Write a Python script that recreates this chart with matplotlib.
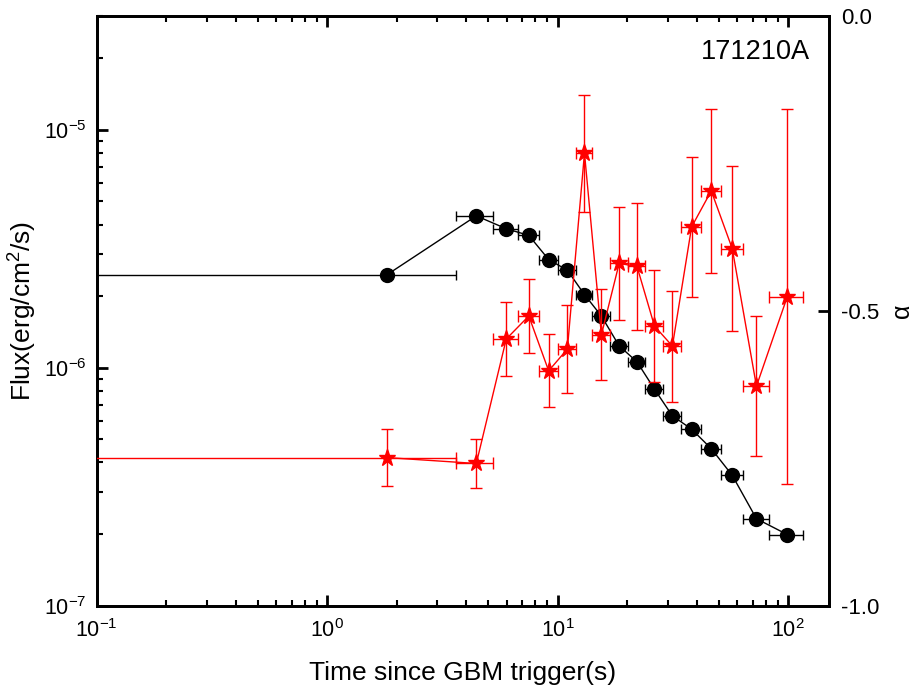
import matplotlib
matplotlib.use("Agg")
import matplotlib.pyplot as plt
import numpy as np
from matplotlib.ticker import LogLocator, FixedLocator, FixedFormatter, NullLocator, LogFormatterSciNotation

plt.rcParams['font.family'] = ['Liberation Sans', 'DejaVu Sans']
plt.rcParams['mathtext.fontset'] = 'custom'
plt.rcParams['mathtext.rm'] = 'Liberation Sans'
plt.rcParams['mathtext.it'] = 'Liberation Sans:italic'
plt.rcParams['axes.unicode_minus'] = False

# ---- data ----
t_lo = [0, 3.63, 5.23, 6.72, 8.25, 10.0, 12.0, 14.1, 16.8, 20.1, 24.0, 28.5, 34.3, 41.8, 50.8, 63.4, 82.0]
t_hi = [3.63, 5.23, 6.72, 8.25, 10.0, 12.0, 14.1, 16.8, 20.1, 24.0, 28.5, 34.3, 41.8, 50.8, 63.4, 82.0, 116.0]
flux = [2.46e-6, 4.35e-6, 3.84e-6, 3.60e-6, 2.85e-6, 2.57e-6, 2.03e-6, 1.65e-6, 1.236e-6,
        1.059e-6, 8.13e-7, 6.28e-7, 5.52e-7, 4.57e-7, 3.53e-7, 2.32e-7, 1.99e-7]
alpha = [-0.749, -0.759, -0.548, -0.509, -0.602, -0.565, -0.233, -0.541, -0.420,
         -0.425, -0.526, -0.560, -0.358, -0.297, -0.395, -0.628, -0.476]
alpha_err = [0.048, 0.041, 0.062, 0.062, 0.062, 0.075, 0.099, 0.077, 0.096,
             0.108, 0.095, 0.094, 0.118, 0.139, 0.140, 0.119, 0.318]
grb_name = "171210A"
alpha_ticks = [-1.0, -0.5, 0.0]
alpha_ticklabels = ["-1.0", "-0.5", "0.0"]

t_lo = np.array(t_lo); t_hi = np.array(t_hi)
t_mid = (t_lo + t_hi) / 2
xerr = [t_mid - t_lo, t_hi - t_mid]

fig = plt.figure(figsize=(9.17, 6.95), dpi=100)
ax = fig.add_axes([0.1055, 0.1285, 0.7985, 0.849])
ax.set_xscale('log')
ax.set_yscale('log')

ax.errorbar(t_mid, flux, xerr=xerr, fmt='o-', color='black', ms=10, lw=1,
            elinewidth=1, capsize=3.8, capthick=1, zorder=3)
ax.set_xlim(0.1, 150)
ax.set_ylim(1e-7, 3.02e-5)

ax2 = ax.twinx()
ax2.errorbar(t_mid, alpha, xerr=xerr, yerr=alpha_err, fmt='*-', color='red', ms=12.5,
             lw=1, elinewidth=1, capsize=4.5, capthick=1, zorder=3)
ax2.set_ylim(-1.0, 0.0)
ax2.yaxis.set_major_locator(FixedLocator(alpha_ticks))
ax2.yaxis.set_major_formatter(FixedFormatter(alpha_ticklabels))
ax2.yaxis.set_minor_locator(NullLocator())

for a in (ax, ax2):
    for s in a.spines.values():
        s.set_linewidth(2)

ax.xaxis.set_major_locator(LogLocator(base=10, numticks=10))
ax.xaxis.set_minor_locator(LogLocator(base=10, subs=np.arange(2, 10), numticks=10))
ax.yaxis.set_major_locator(LogLocator(base=10, numticks=10))
ax.yaxis.set_minor_locator(LogLocator(base=10, subs=np.arange(2, 10), numticks=10))
ax.xaxis.set_major_formatter(LogFormatterSciNotation())
ax.yaxis.set_major_formatter(LogFormatterSciNotation())

ax.tick_params(axis='x', which='both', direction='in', top=True, bottom=True)
ax.tick_params(axis='y', which='both', direction='in', left=True, right=False)
ax.tick_params(which='major', length=8, width=2, labelsize=15.5)
ax.tick_params(which='minor', length=4.5, width=1.5)
ax.tick_params(axis='x', which='major', pad=10)
ax.tick_params(axis='y', which='major', pad=7)
ax2.tick_params(axis='y', which='major', direction='in', length=8, width=2, labelsize=16, pad=9)

ax.set_xlabel("Time since GBM trigger(s)", fontsize=19, labelpad=13)
ax.set_ylabel(r"Flux(erg/cm$^{\mathregular{2}}$/s)", fontsize=19, labelpad=4)
ax2.set_ylabel("α", fontsize=18, labelpad=7)
ax.text(0.974, 0.9385, grb_name, transform=ax.transAxes, ha='right', va='center', fontsize=19.5)

fig.savefig("out.png", dpi=100)
